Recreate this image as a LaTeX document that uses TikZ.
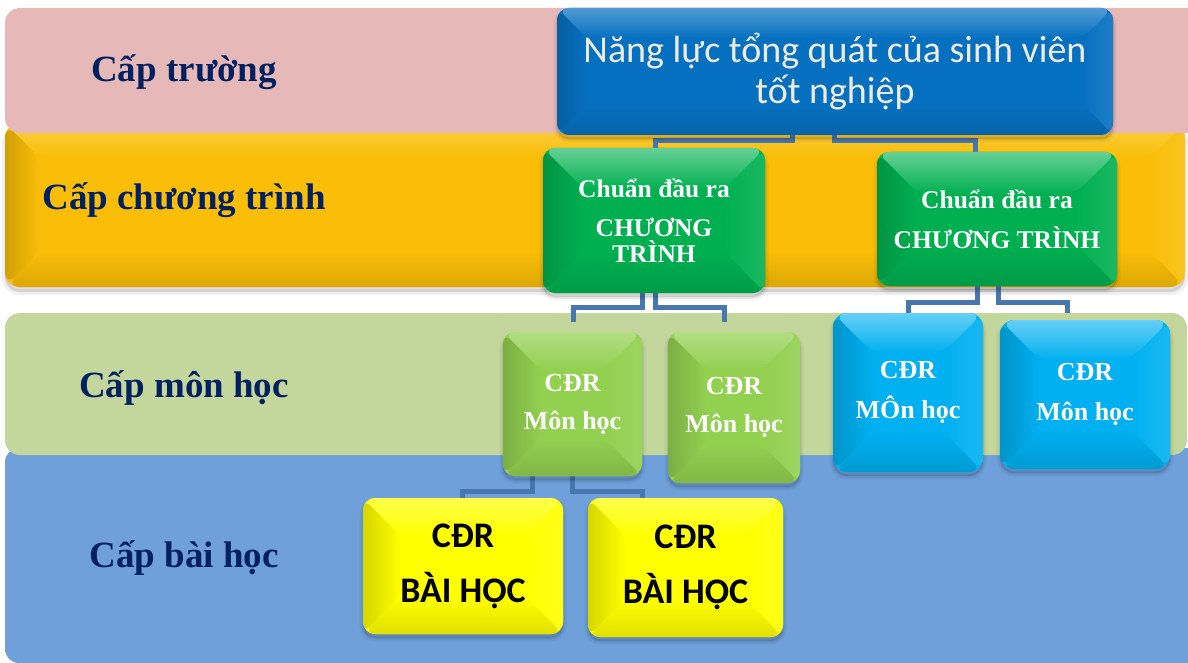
\documentclass[tikz,border=0pt]{standalone}
\usepackage{fontspec}
\setmainfont{Liberation Serif}
\newfontfamily\calib{Carlito}

\definecolor{bandpink}{RGB}{230,184,183}
\definecolor{bandyellow}{RGB}{250,190,8}
\definecolor{bandolive}{RGB}{195,214,155}
\definecolor{bandblue}{RGB}{111,160,218}
\definecolor{navy}{RGB}{0,32,96}
\definecolor{topblue}{RGB}{6,112,192}
\definecolor{progreen}{RGB}{0,176,80}
\definecolor{subgreen}{RGB}{146,208,80}
\definecolor{subcyan}{RGB}{0,176,240}
\definecolor{lessonyellow}{RGB}{255,255,0}
\definecolor{linkblue}{RGB}{72,118,174}
\definecolor{paper}{RGB}{238,236,225}

\pgfdeclarelayer{bands}
\pgfdeclarelayer{links}
\pgfsetlayers{bands,links,main}

\tikzset{
  % bevelled fill: four shaded facets clipped to the shape
  bevel/.style n args={3}{fill=#1, path picture={
    \path (path picture bounding box.north west) coordinate (bnw)
          (path picture bounding box.north east) coordinate (bne)
          (path picture bounding box.south west) coordinate (bsw)
          (path picture bounding box.south east) coordinate (bse);
    \shade[left color=#1!84!black, right color=#1]
      (bnw) -- ([shift={(#2pt,-#2pt)}]bnw) -- ([shift={(#2pt,#2pt)}]bsw) -- (bsw) -- cycle;
    \shade[right color=#1!90!white, left color=#1]
      (bne) -- ([shift={(-#2pt,-#2pt)}]bne) -- ([shift={(-#2pt,#2pt)}]bse) -- (bse) -- cycle;
    \shade[bottom color=#1!88!black, top color=#1]
      (bsw) -- (bse) -- ([shift={(-#2pt,#2pt)}]bse) -- ([shift={(#2pt,#2pt)}]bsw) -- cycle;
    \shade[top color=#1!#3!white, bottom color=#1]
      (bnw) -- (bne) -- ([shift={(-#2pt,-#2pt)}]bne) -- ([shift={(#2pt,-#2pt)}]bnw) -- cycle;
  }},
  % soft drop shadow made of stacked translucent copies
  softshadow/.style={
    preaction={path picture={}, fill=black, fill opacity=0.10, draw=none,
      transform canvas={yshift=-4pt}},
    preaction={path picture={}, fill=none, draw=black, draw opacity=0.07,
      line width=3pt, transform canvas={yshift=-4pt}},
    preaction={path picture={}, fill=none, draw=black, draw opacity=0.04,
      line width=7pt, transform canvas={yshift=-4pt}},
  },
  box/.style={rounded corners=12pt, inner sep=0pt, align=center, softshadow},
  topbox/.style={box, bevel={topblue}{30}{70}, text=paper,
    font=\calib\fontsize{38}{41}\selectfont},
  progbox/.style={box, bevel={progreen}{42}{60}, text=white,
    font=\bfseries\fontsize{25.5}{26.5}\selectfont},
  subbox/.style={box, bevel={subgreen}{38}{70}, text=white,
    font=\bfseries\fontsize{26}{38}\selectfont},
  cyanbox/.style={box, rounded corners=14pt, bevel={subcyan}{40}{60}, text=white,
    font=\bfseries\fontsize{26}{40}\selectfont},
  lessonbox/.style={box, bevel={lessonyellow}{38}{70}, text=black,
    font=\calib\bfseries\fontsize{36}{55}\selectfont},
  level/.style={text=navy, anchor=base, inner sep=0pt,
    font=\bfseries\fontsize{37}{44}\selectfont},
  link/.style={draw=linkblue, line width=5pt},
}

\begin{document}
\begin{tikzpicture}[x=1pt, y=-1pt]
\useasboundingbox (0,0) rectangle (1188,663);

% level bands
\begin{pgfonlayer}{bands}
  \clip (0,0) rectangle (1188,663);
  \fill[white] (0,0) rectangle (1188,663);
  \path[rounded corners=15pt, bevel={bandyellow}{35}{75},
        preaction={path picture={}, fill=black, fill opacity=0.12, transform canvas={yshift=-5pt}},
        preaction={path picture={}, fill=none, draw=black, draw opacity=0.06, line width=6pt, transform canvas={yshift=-5pt}}]
    (5,123) rectangle (1185,287);
  \fill[bandpink, rounded corners=15pt] (5,8) rectangle (1210,133);
  \fill[bandblue, rounded corners=14pt] (5,448) rectangle (1210,663);
  \fill[bandolive, rounded corners=15pt] (5,313) rectangle (1187,455);
\end{pgfonlayer}

% level names
\node[level] (Ltruong) at (184,82) {Cấp trường};
\node[level] (Lchuong) at (184,210) {Cấp chương trình};
\node[level] (Lmon) at (184,397) {Cấp môn học};
\node[level] (Lbai) at (184,567) {Cấp bài học};

% outcome boxes
\node[topbox, minimum width=556pt, minimum height=127pt] (top) at (835,71.5)
  {Năng lực tổng quát của sinh viên\\tốt nghiệp};

\node[progbox, minimum width=222pt, minimum height=145pt] (g1) at (654,220.5)
  {Chuẩn đầu ra\\[12.5pt]CHƯƠNG\\TRÌNH};
\node[progbox, minimum width=240pt, minimum height=134pt] (g2) at (997,219)
  {Chuẩn đầu ra\\[13.5pt]CHƯƠNG TRÌNH};

\node[subbox, minimum width=139pt, minimum height=144pt] (lg1) at (572.5,404)
  {CĐR\\Môn học};
\node[subbox, minimum width=132pt, minimum height=151pt] (lg2) at (734,407.5)
  {CĐR\\Môn học};
\node[cyanbox, minimum width=150pt, minimum height=159pt] (c1) at (908,392.5)
  {CĐR\\MÔn học};
\node[cyanbox, minimum width=170pt, minimum height=149pt] (c2) at (1085,394.5)
  {CĐR\\Môn học};

\node[lessonbox, minimum width=200pt, minimum height=136pt] (y1) at (463,566)
  {CĐR\\BÀI HỌC};
\node[lessonbox, minimum width=195pt, minimum height=139pt] (y2) at (685.5,567.5)
  {CĐR\\BÀI HỌC};

% elbow connectors
\begin{pgfonlayer}{links}
  \draw[link] ([xshift=-43pt]top.south) -- ++(0,5.5) -| ([xshift=1pt]g1.north);
  \draw[link] ([xshift=-1pt]top.south) -- ++(0,5.5) -| ([xshift=-22pt]g2.north);
  \draw[link, shorten >=10pt] ([xshift=-12pt]g1.south) -- ++(0,14.5) -| ([xshift=0.5pt]lg1.north);
  \draw[link, shorten >=10pt] ([xshift=1pt]g1.south) -- ++(0,14.5) -| ([xshift=-10pt]lg2.north);
  \draw[link] ([xshift=-20pt]g2.south) -- ++(0,16) -| (c1.north);
  \draw[link, shorten >=7pt] ([xshift=1pt]g2.south) -- ++(0,16) -| ([xshift=-18pt]c2.north);
  \draw[link] ([xshift=-40.5pt]lg1.south) -- ++(0,15) -| ([xshift=-1pt]y1.north);
  \draw[link] ([xshift=-0.5pt]lg1.south) -- ++(0,15) -| ([xshift=-43.5pt]y2.north);
\end{pgfonlayer}
\end{tikzpicture}
\end{document}
